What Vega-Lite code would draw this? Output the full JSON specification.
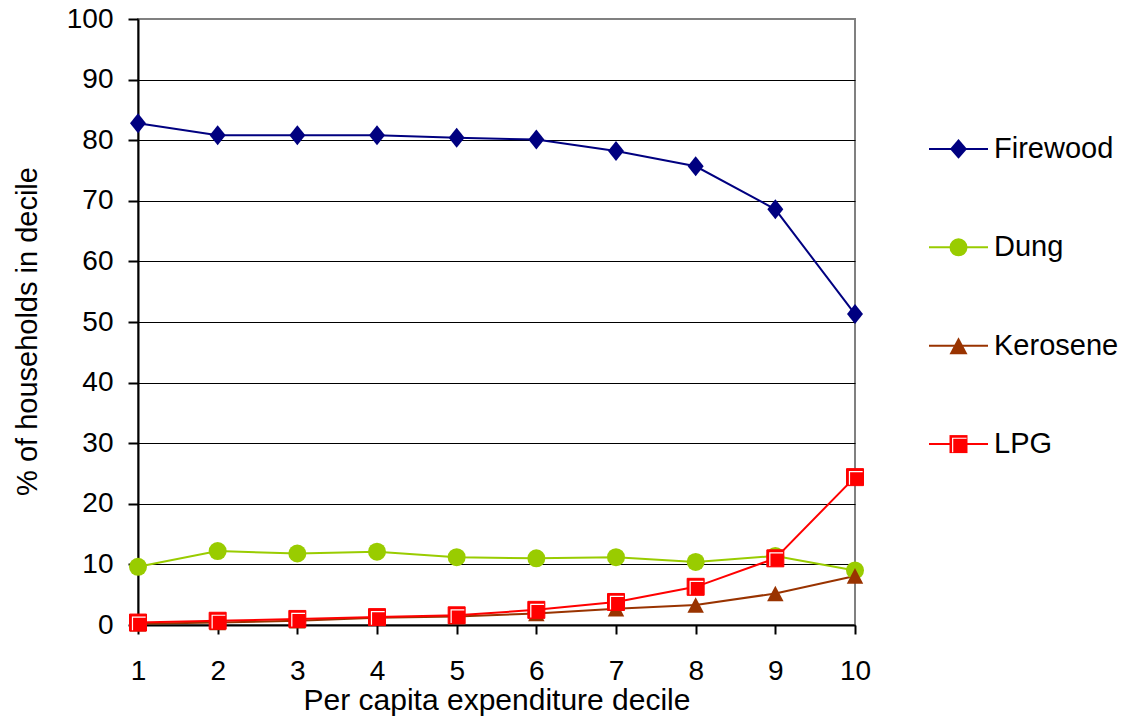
{
  "$schema": "https://vega.github.io/schema/vega-lite/v6.json",
  "autosize": {"type": "pad"},
  "padding": {"left": 12, "top": 4, "right": 0, "bottom": 0},
  "background": "white",
  "bounds": "flush",
  "spacing": 74,
  "config": {
    "font": "Liberation Sans",
    "view": {"stroke": "#808080", "strokeWidth": 2}
  },
  "data": {
    "values": [
      {"decile": 1, "fuel": "Firewood", "pct": 82.8},
      {"decile": 2, "fuel": "Firewood", "pct": 80.8},
      {"decile": 3, "fuel": "Firewood", "pct": 80.8},
      {"decile": 4, "fuel": "Firewood", "pct": 80.8},
      {"decile": 5, "fuel": "Firewood", "pct": 80.4},
      {"decile": 6, "fuel": "Firewood", "pct": 80.1},
      {"decile": 7, "fuel": "Firewood", "pct": 78.2},
      {"decile": 8, "fuel": "Firewood", "pct": 75.7},
      {"decile": 9, "fuel": "Firewood", "pct": 68.6},
      {"decile": 10, "fuel": "Firewood", "pct": 51.3},
      {"decile": 1, "fuel": "Dung", "pct": 9.6},
      {"decile": 2, "fuel": "Dung", "pct": 12.2},
      {"decile": 3, "fuel": "Dung", "pct": 11.8},
      {"decile": 4, "fuel": "Dung", "pct": 12.1},
      {"decile": 5, "fuel": "Dung", "pct": 11.2},
      {"decile": 6, "fuel": "Dung", "pct": 11.0},
      {"decile": 7, "fuel": "Dung", "pct": 11.2},
      {"decile": 8, "fuel": "Dung", "pct": 10.4},
      {"decile": 9, "fuel": "Dung", "pct": 11.4},
      {"decile": 10, "fuel": "Dung", "pct": 9.0},
      {"decile": 1, "fuel": "Kerosene", "pct": 0.2},
      {"decile": 2, "fuel": "Kerosene", "pct": 0.4},
      {"decile": 3, "fuel": "Kerosene", "pct": 0.7},
      {"decile": 4, "fuel": "Kerosene", "pct": 1.2},
      {"decile": 5, "fuel": "Kerosene", "pct": 1.4},
      {"decile": 6, "fuel": "Kerosene", "pct": 1.9},
      {"decile": 7, "fuel": "Kerosene", "pct": 2.7},
      {"decile": 8, "fuel": "Kerosene", "pct": 3.3},
      {"decile": 9, "fuel": "Kerosene", "pct": 5.2},
      {"decile": 10, "fuel": "Kerosene", "pct": 8.1},
      {"decile": 1, "fuel": "LPG", "pct": 0.4},
      {"decile": 2, "fuel": "LPG", "pct": 0.7},
      {"decile": 3, "fuel": "LPG", "pct": 1.0},
      {"decile": 4, "fuel": "LPG", "pct": 1.3},
      {"decile": 5, "fuel": "LPG", "pct": 1.6},
      {"decile": 6, "fuel": "LPG", "pct": 2.5},
      {"decile": 7, "fuel": "LPG", "pct": 3.8},
      {"decile": 8, "fuel": "LPG", "pct": 6.3},
      {"decile": 9, "fuel": "LPG", "pct": 11.0},
      {"decile": 10, "fuel": "LPG", "pct": 24.4}
    ]
  },
  "hconcat": [
    {
      "width": 717,
      "height": 606,
      "encoding": {
        "x": {
          "field": "decile",
          "type": "quantitative",
          "scale": {"domain": [1, 10], "nice": false, "zero": false},
          "axis": {
            "title": "Per capita expenditure decile",
            "values": [1, 2, 3, 4, 5, 6, 7, 8, 9, 10],
            "grid": false,
            "domainColor": "black",
            "domainWidth": 2,
            "tickColor": "black",
            "tickSize": 9,
            "tickWidth": 2,
            "labelFontSize": 28,
            "labelColor": "black",
            "labelPadding": 23,
            "labelFlush": false,
            "labelOverlap": false,
            "labelBound": false,
            "titleFontSize": 30,
            "titleFontWeight": "normal",
            "titleColor": "black",
            "titlePadding": 0
          }
        },
        "y": {
          "field": "pct",
          "type": "quantitative",
          "scale": {"domain": [0, 100], "nice": false},
          "axis": {
            "title": "% of households in decile",
            "values": [0, 10, 20, 30, 40, 50, 60, 70, 80, 90, 100],
            "grid": true,
            "gridColor": "black",
            "gridWidth": 1,
            "gridOpacity": {"condition": {"test": "datum.value === 100", "value": 0}, "value": 1},
            "domainColor": "black",
            "domainWidth": 2,
            "tickColor": "black",
            "tickSize": 10,
            "tickWidth": 2,
            "labelFontSize": 28,
            "labelColor": "black",
            "labelPadding": 15,
            "labelOverlap": false,
            "titleFontSize": 29,
            "titleFontWeight": "normal",
            "titleColor": "black",
            "titlePadding": 24,
            "titleY": 312
          }
        }
      },
      "layer": [
        {
          "mark": {"type": "line", "strokeWidth": 2},
          "encoding": {
            "color": {
              "field": "fuel",
              "type": "nominal",
              "scale": {"domain": ["Firewood", "Dung", "Kerosene", "LPG"], "range": ["#000080", "#99CC00", "#993300", "#FF0000"]},
              "legend": null
            }
          }
        },
        {
          "transform": [{"filter": "datum.fuel === 'Firewood'"}],
          "mark": {"type": "point", "filled": true, "opacity": 1, "shape": "M0,-1L0.8,0L0,1L-0.8,0Z", "size": 400, "fill": "#000080"}
        },
        {
          "transform": [{"filter": "datum.fuel === 'Dung'"}],
          "mark": {"type": "point", "filled": true, "opacity": 1, "shape": "circle", "size": 324, "fill": "#99CC00"}
        },
        {
          "transform": [{"filter": "datum.fuel === 'Kerosene'"}],
          "mark": {"type": "point", "filled": true, "opacity": 1, "shape": "M0,-0.9L0.95,0.9L-0.95,0.9Z", "size": 300, "fill": "#993300"}
        },
        {
          "transform": [{"filter": "datum.fuel === 'LPG'"}],
          "mark": {"type": "point", "filled": true, "opacity": 1, "shape": "square", "size": 289, "fill": "#FF0000", "stroke": "#FF0000", "strokeWidth": 1}
        },
        {
          "transform": [{"filter": "datum.fuel === 'LPG'"}],
          "mark": {"type": "point", "filled": false, "opacity": 1, "shape": "M-0.65,0.9V-0.65H0.9", "size": 289, "stroke": "white", "strokeWidth": 1.2}
        }
      ]
    },
    {
      "width": 59,
      "height": 492,
      "view": {"stroke": null},
      "transform": [{"filter": "datum.decile === 1"}],
      "encoding": {
        "y": {
          "field": "fuel",
          "type": "nominal",
          "scale": {"type": "point", "domain": ["Firewood", "Dung", "Kerosene", "LPG"], "padding": 1, "align": 0.66},
          "axis": null
        }
      },
      "layer": [
        {
          "mark": {"type": "rule", "strokeWidth": 2},
          "encoding": {
            "x": {"datum": 0, "type": "quantitative", "scale": {"domain": [0, 1], "nice": false, "zero": false}, "axis": null},
            "x2": {"datum": 1},
            "color": {
              "field": "fuel",
              "type": "nominal",
              "scale": {"domain": ["Firewood", "Dung", "Kerosene", "LPG"], "range": ["#000080", "#99CC00", "#993300", "#FF0000"]},
              "legend": null
            }
          }
        },
        {
          "mark": {"type": "point", "filled": true, "opacity": 1, "size": 324},
          "encoding": {
            "x": {"datum": 0.5, "type": "quantitative"},
            "color": {
              "field": "fuel",
              "type": "nominal",
              "scale": {"domain": ["Firewood", "Dung", "Kerosene", "LPG"], "range": ["#000080", "#99CC00", "#993300", "#FF0000"]},
              "legend": null
            },
            "shape": {
              "field": "fuel",
              "type": "nominal",
              "scale": {
                "domain": ["Firewood", "Dung", "Kerosene", "LPG"],
                "range": [
                  "M0,-1.1L0.95,0L0,1.1L-0.95,0Z",
                  "circle",
                  "M0,-0.95L1,0.95L-1,0.95Z",
                  "square"
                ]
              },
              "legend": null
            }
          }
        },
        {
          "transform": [{"filter": "datum.fuel === 'LPG'"}],
          "mark": {"type": "point", "filled": false, "opacity": 1, "shape": "M-0.65,0.9V-0.65H0.9", "size": 324, "stroke": "white", "strokeWidth": 1.2},
          "encoding": {
            "x": {"datum": 0.5, "type": "quantitative"}
          }
        },
        {
          "mark": {"type": "text", "align": "left", "baseline": "middle", "dx": 6, "fontSize": 29, "color": "black"},
          "encoding": {
            "x": {"datum": 1, "type": "quantitative"},
            "text": {"field": "fuel", "type": "nominal"}
          }
        }
      ]
    }
  ]
}
